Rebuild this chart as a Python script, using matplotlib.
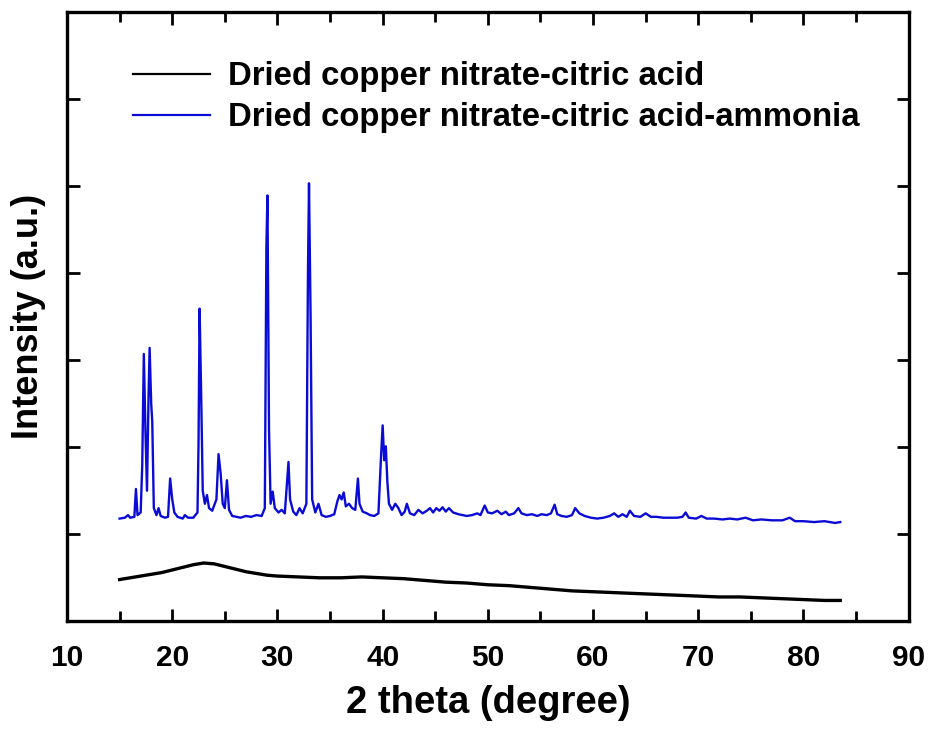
import matplotlib
matplotlib.use("Agg")
import matplotlib.pyplot as plt
from matplotlib.ticker import MultipleLocator

plt.rcParams["font.family"] = ["Liberation Sans", "DejaVu Sans"]
plt.rcParams["font.weight"] = "bold"

# amorphous sample (black)
black_x = [15, 16, 17, 18, 19, 20, 21, 22, 23, 24, 25, 26, 27, 28, 29, 30,
           32, 34, 36, 38, 40, 42, 44, 46, 48, 50, 52, 54, 56, 58, 60, 62,
           64, 66, 68, 70, 72, 74, 76, 78, 80, 82, 83.5]
black_y = [0.48, 0.50, 0.52, 0.54, 0.56, 0.59, 0.62, 0.65, 0.67, 0.66, 0.63,
           0.60, 0.57, 0.55, 0.53, 0.52, 0.51, 0.50, 0.50, 0.51, 0.50, 0.49,
           0.47, 0.45, 0.44, 0.42, 0.41, 0.39, 0.37, 0.35, 0.34, 0.33, 0.32,
           0.31, 0.30, 0.29, 0.28, 0.28, 0.27, 0.26, 0.25, 0.24, 0.24]

# crystalline sample with ammonia (blue)
blue_x = [15.0, 15.5, 15.8, 16.0, 16.4, 16.55, 16.7, 17.0, 17.15, 17.3, 17.45,
          17.6, 17.75, 17.85, 18.0, 18.1, 18.25, 18.5, 18.7, 18.9, 19.3, 19.6,
          19.8, 20.0, 20.2, 20.5, 21.0, 21.2, 21.5, 22.0, 22.4, 22.5, 22.6,
          22.75, 22.9, 23.1, 23.3, 23.5, 23.8, 24.2, 24.4, 24.6, 24.8, 25.0,
          25.2, 25.4, 25.7, 26.5, 27.0, 27.5, 28.0, 28.5, 28.8, 28.95, 29.05,
          29.2, 29.35, 29.55, 29.75, 30.1, 30.4, 30.7, 31.05, 31.2, 31.5,
          31.8, 32.1, 32.4, 32.75, 32.9, 33.0, 33.15, 33.3, 33.6, 33.9, 34.2,
          34.6, 35.0, 35.4, 35.7, 35.9, 36.1, 36.3, 36.5, 36.8, 37.1, 37.4,
          37.65, 37.8, 38.1, 38.5, 38.8, 39.2, 39.6, 39.85, 40.0, 40.15, 40.3,
          40.45, 40.6, 40.9, 41.2, 41.5, 41.8, 42.1, 42.3, 42.6, 43.0, 43.4,
          43.8, 44.2, 44.5, 44.8, 45.1, 45.4, 45.7, 46.0, 46.3, 46.7, 47.2,
          47.6, 48.0, 48.5, 49.0, 49.3, 49.7, 50.0, 50.4, 50.9, 51.3, 51.7,
          52.0, 52.5, 52.9, 53.2, 53.7, 54.2, 54.7, 55.1, 55.6, 56.0, 56.35,
          56.6, 57.0, 57.5, 58.0, 58.3, 58.7, 59.2, 59.8, 60.4, 61.0, 61.6,
          62.0, 62.4, 62.8, 63.2, 63.5, 63.9, 64.5, 65.0, 65.5, 66.0, 66.7,
          67.3, 68.0, 68.5, 68.8, 69.1, 69.8, 70.3, 70.8, 71.5, 72.3, 73.0,
          73.7, 74.5, 75.2, 76.0, 77.0, 78.0, 78.7, 79.2, 80.0, 81.0, 82.0,
          83.0, 83.5]
blue_y = [1.18, 1.19, 1.22, 1.19, 1.20, 1.52, 1.22, 1.25, 1.80, 3.07, 2.20,
          1.50, 2.60, 3.14, 2.50, 2.30, 1.30, 1.22, 1.30, 1.21, 1.19, 1.20,
          1.64, 1.40, 1.25, 1.20, 1.18, 1.22, 1.19, 1.19, 1.25, 2.05, 3.59,
          2.60, 1.50, 1.35, 1.45, 1.30, 1.27, 1.40, 1.92, 1.70, 1.35, 1.30,
          1.62, 1.28, 1.21, 1.19, 1.21, 1.20, 1.22, 1.21, 1.30, 4.30, 4.89,
          2.20, 1.35, 1.49, 1.30, 1.25, 1.28, 1.24, 1.83, 1.40, 1.26,
          1.22, 1.30, 1.24, 1.35, 4.00, 5.03, 3.50, 1.40, 1.25, 1.35, 1.22,
          1.20, 1.21, 1.23, 1.38, 1.45, 1.40, 1.48, 1.32, 1.35, 1.30, 1.28,
          1.64, 1.35, 1.26, 1.24, 1.22, 1.21, 1.24, 1.90, 2.25, 1.85, 2.01,
          1.60, 1.35, 1.28, 1.35, 1.30, 1.22, 1.26, 1.35, 1.24, 1.22, 1.28,
          1.24, 1.27, 1.30, 1.25, 1.30, 1.27, 1.31, 1.26, 1.30, 1.25, 1.23,
          1.22, 1.21, 1.22, 1.24, 1.22, 1.33, 1.25, 1.24, 1.27, 1.23, 1.26,
          1.22, 1.24, 1.30, 1.24, 1.22, 1.23, 1.21, 1.23, 1.22, 1.24, 1.34,
          1.23, 1.21, 1.20, 1.22, 1.30, 1.24, 1.21, 1.19, 1.18, 1.19, 1.21,
          1.24, 1.20, 1.23, 1.20, 1.27, 1.21, 1.20, 1.24, 1.20, 1.20, 1.19,
          1.19, 1.19, 1.20, 1.25, 1.19, 1.18, 1.21, 1.18, 1.18, 1.17, 1.18,
          1.17, 1.19, 1.16, 1.17, 1.16, 1.16, 1.19, 1.15, 1.15, 1.14, 1.15,
          1.13, 1.14]

labels = ["Dried copper nitrate-citric acid",
          "Dried copper nitrate-citric acid-ammonia"]

fig = plt.figure(figsize=(9.31, 7.31), dpi=100)
ax = fig.add_axes([0.072, 0.150, 0.904, 0.834])

ax.plot(black_x, black_y, color="black", lw=2.4, label=labels[0])
ax.plot(blue_x, blue_y, color="#0b0bd6", lw=1.7, label=labels[1])

ax.set_xlim(10, 90)
ax.set_ylim(0, 7)
ax.xaxis.set_major_locator(MultipleLocator(10))
ax.xaxis.set_minor_locator(MultipleLocator(5))
ax.set_yticks([1, 2, 3, 4, 5, 6])
ax.set_yticklabels([])

ax.tick_params(axis="both", which="both", direction="in", top=True, right=True,
               width=2, labelsize=21.5)
ax.tick_params(which="major", length=9)
ax.tick_params(which="minor", length=7)
ax.tick_params(axis="x", pad=16.5)
for s in ax.spines.values():
    s.set_linewidth(2.4)

ax.set_xlabel("2 theta (degree)", fontsize=27.5, fontweight="bold", labelpad=9)
ax.set_ylabel("Intensity (a.u.)", fontsize=26, fontweight="bold", labelpad=12)

leg = ax.legend(loc="upper left", bbox_to_anchor=(0.043, 0.967), frameon=False,
                prop={"size": 23.7, "weight": "bold"}, handlelength=2.35,
                handletextpad=0.55, labelspacing=0.3)
for line in leg.get_lines():
    line.set_linewidth(1.6)

fig.savefig("out.png", dpi=100)
plt.close(fig)
